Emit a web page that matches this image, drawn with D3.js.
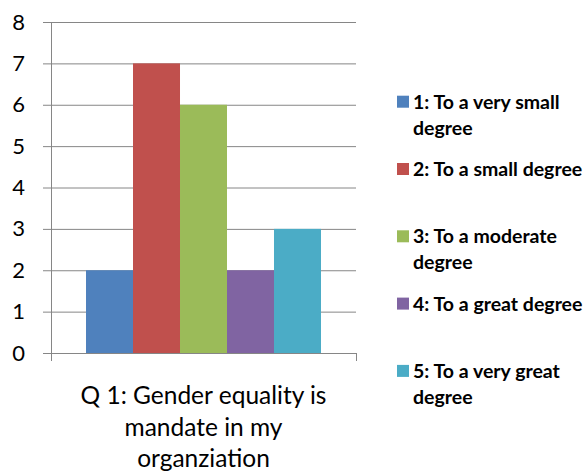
<!DOCTYPE html>
<html lang="en">
<head>
<meta charset="UTF-8">
<title>Q 1: Gender equality is mandate in my organziation</title>
<script src="https://d3js.org/d3.v7.min.js"></script>
<style>
  body { margin: 0; background: white; }
  svg { display: block; }
  text { font-family: Lato, "Open Sans", sans-serif; fill: #000; }
</style>
</head>
<body>
<svg width="588" height="474"></svg>
<script>
// data
const question = "Q 1: Gender equality is\nmandate in my\norganziation";
const seriesLabels = [
  "1: To a very small\ndegree",
  "2: To a small degree",
  "3: To a moderate\ndegree",
  "4: To a great degree",
  "5: To a very great\ndegree"
];
const values = [2, 7, 6, 2, 3];
const yTicks = [0, 1, 2, 3, 4, 5, 6, 7, 8];
const colors = ["#4F81BD", "#C0504D", "#9BBB59", "#8064A2", "#4BACC6"];

const svg = d3.select("svg");
const plot = { left: 51, right: 356, top: 22, bottom: 353 };

const y = d3.scaleLinear().domain([0, 8]).range([plot.bottom, plot.top]);
const x0 = d3.scaleBand().domain([question]).range([plot.left, plot.right])
  .paddingInner(0).paddingOuter(0.149);
const x1 = d3.scaleBand().domain(seriesLabels).range([0, x0.bandwidth()]);

// gridlines + y labels
const yAxis = d3.axisLeft(y).tickValues(yTicks).tickSize(8).tickPadding(18);
const gy = svg.append("g").attr("transform", `translate(${plot.left},0)`).call(yAxis);
gy.select(".domain").attr("stroke", "#868686");
gy.selectAll(".tick line").attr("stroke", "#868686");
gy.selectAll(".tick text").style("font-size", "22px").attr("fill", "#000");
svg.append("g").selectAll("line").data(yTicks.filter(d => d > 0)).join("line")
  .attr("x1", plot.left).attr("x2", plot.right)
  .attr("y1", d => y(d) + 0.5).attr("y2", d => y(d) + 0.5)
  .attr("stroke", "#868686").attr("stroke-width", 1);

// x axis
svg.append("line").attr("x1", plot.left).attr("x2", plot.right)
  .attr("y1", y(0) + 0.5).attr("y2", y(0) + 0.5).attr("stroke", "#868686");
[plot.left, plot.right].forEach(px => {
  svg.append("line").attr("x1", px + 0.5).attr("x2", px + 0.5)
    .attr("y1", y(0)).attr("y2", y(0) + 8).attr("stroke", "#868686");
});

// bars
svg.append("g").attr("transform", `translate(${x0(question)},0)`)
  .selectAll("rect").data(values).join("rect")
  .attr("x", (d, i) => x1(seriesLabels[i]))
  .attr("width", x1.bandwidth())
  .attr("y", d => y(d))
  .attr("height", d => y(0) - y(d))
  .attr("fill", (d, i) => colors[i]);

// category label
const qx = x0(question) + x0.bandwidth() / 2;
svg.append("text").attr("text-anchor", "middle").style("font-size", "24.5px")
  .selectAll("tspan").data(question.split("\n")).join("tspan")
  .attr("x", qx).attr("y", (d, i) => 404 + i * 31.5).text(d => d);

// legend
const lg = svg.append("g").selectAll("g").data(seriesLabels).join("g")
  .attr("transform", (d, i) => `translate(397,${100.7 + i * 67.3})`);
lg.append("rect").attr("x", 0).attr("y", -5).attr("width", 12).attr("height", 12)
  .attr("fill", (d, i) => colors[i]);
lg.append("text").style("font-size", "19.5px").style("font-weight", "bold")
  .selectAll("tspan").data(d => d.split("\n")).join("tspan")
  .attr("x", 16).attr("y", (d, i) => 8 + i * 26).text(d => d);
</script>
</body>
</html>
